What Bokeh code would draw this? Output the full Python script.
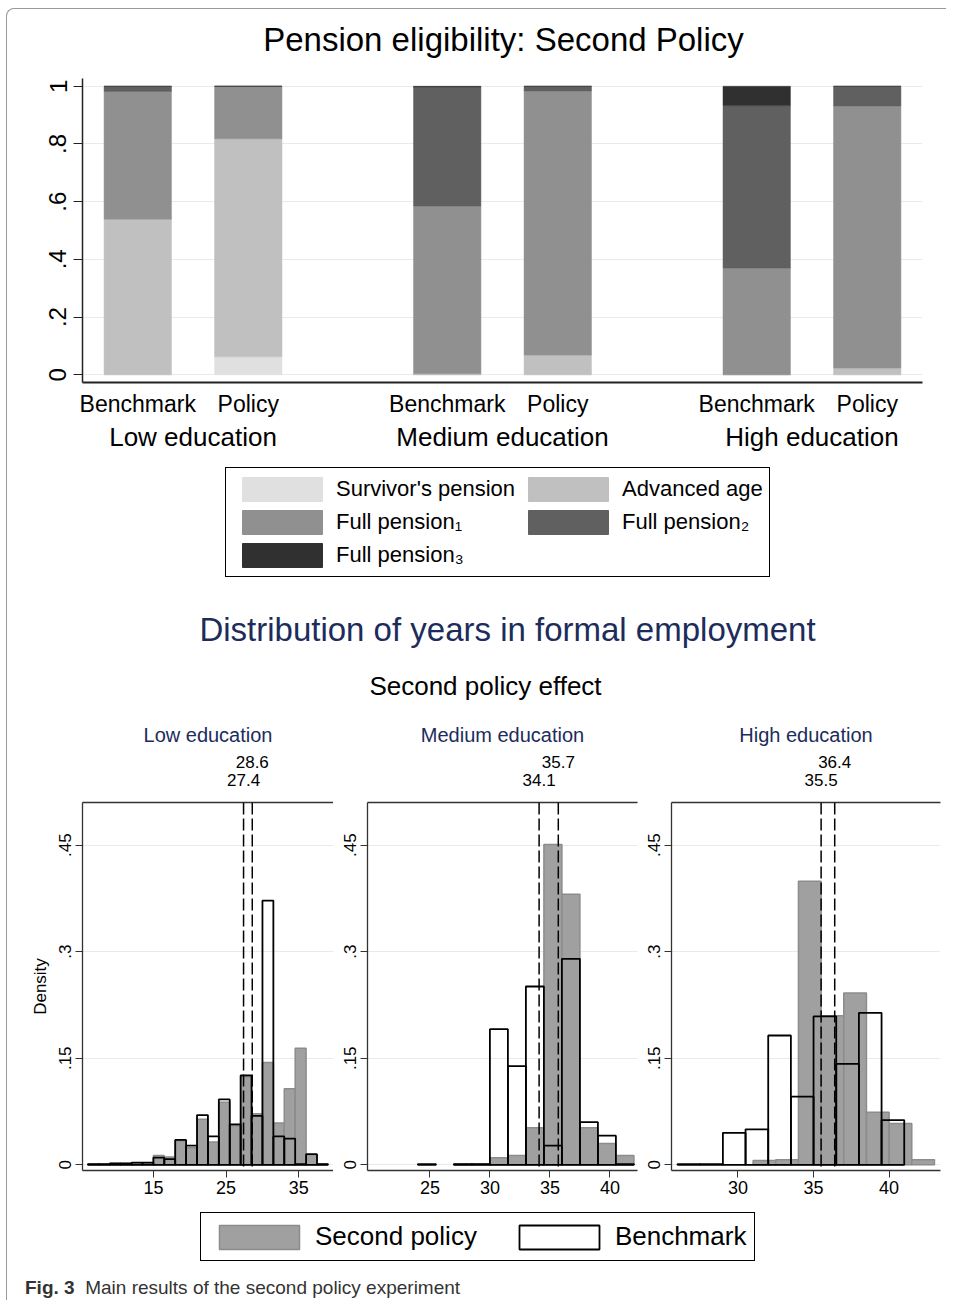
import math
from bokeh.plotting import figure
from bokeh.models import (ColumnDataSource, FactorRange, Range1d, LinearAxis, FixedTicker,
                          Span, Legend, LegendItem, Div)
from bokeh.layouts import column, row
from bokeh.embed import file_html
from bokeh.resources import INLINE

FONT = "Liberation Sans"
NAVY = "#1c2c5b"
NaN = float("nan")

# ---------------- Top chart: pension eligibility ----------------
EDU_GROUPS = ["Low education", "Medium education", "High education"]
SCENARIOS = ["Benchmark", "Policy"]
ELIG_LABELS = ["Survivor's pension", "Advanced age", "Full pension\u2081",
               "Full pension\u2082", "Full pension\u2083"]
ELIG_COLORS = ["#e0e0e0", "#c0c0c0", "#909090", "#606060", "#303030"]
# order: Low-Benchmark, Low-Policy, Medium-Benchmark, Medium-Policy, High-Benchmark, High-Policy
SURVIVOR = [0.000, 0.062, 0.000, 0.000, 0.000, 0.000]
ADVANCED = [0.539, 0.756, 0.003, 0.068, 0.000, 0.023]
FULL_1 = [0.443, 0.182, 0.582, 0.916, 0.370, 0.909]
FULL_2 = [0.018, 0.000, 0.412, 0.016, 0.563, 0.068]
FULL_3 = [0.000, 0.000, 0.003, 0.000, 0.067, 0.000]
TOP_YTICKS = [0, 0.2, 0.4, 0.6, 0.8, 1]
TOP_YLABELS = ["0", ".2", ".4", ".6", ".8", "1"]

# ---------------- Histograms: years in formal employment ----------------
BIN_WIDTH = 1.5
LOW_LEFT = [6.0, 7.5, 9.0, 10.5, 12.0, 13.5, 15.0, 16.5, 18.0, 19.5, 21.0,
            22.5, 24.0, 25.5, 27.0, 28.5, 30.0, 31.5, 33.0, 34.5, 36.0, 37.5]
LOW_BENCH = [0.001, 0.001, 0.002, 0.002, 0.003, 0.003, 0.010, 0.008, 0.035, 0.027, 0.070,
             0.040, 0.092, 0.057, 0.126, 0.069, 0.372, 0.040, 0.037, 0.001, 0.015, 0.001]
LOW_POLICY = [0.001, 0.001, 0.002, 0.002, 0.003, 0.003, 0.013, 0.011, 0.034, 0.024, 0.064,
              0.032, 0.088, 0.055, 0.124, 0.072, 0.144, 0.059, 0.107, 0.164, 0.014, 0.001]
LOW_MEDIANS = [27.4, 28.6]

MED_LEFT = [24.0, 25.5, 27.0, 28.5, 30.0, 31.5, 33.0, 34.5, 36.0, 37.5, 39.0, 40.5]
MED_BENCH = [0.001, NaN, 0.001, 0.001, 0.191, 0.139, 0.251, 0.027, 0.290, 0.060, 0.041, 0.001]
MED_POLICY = [NaN, NaN, 0.001, 0.001, 0.010, 0.013, 0.052, 0.451, 0.381, 0.052, 0.030, 0.013]
MED_MEDIANS = [34.1, 35.7]

HIGH_POL_LEFT = [31.0, 32.5, 34.0, 35.5, 37.0, 38.5, 40.0, 41.5]
HIGH_POLICY = [0.006, 0.007, 0.399, 0.210, 0.242, 0.074, 0.058, 0.007]
HIGH_BEN_LEFT = [26.0, 27.5, 29.0, 30.5, 32.0, 33.5, 35.0, 36.5, 38.0, 39.5]
HIGH_BENCH = [0.001, 0.001, 0.045, 0.050, 0.182, 0.096, 0.209, 0.142, 0.214, 0.063]
HIGH_MEDIANS = [35.5, 36.4]

HIST_YTICKS = [0, 0.15, 0.3, 0.45]
HIST_YLABELS = ["0", ".15", ".3", ".45"]
SERIES_LABELS = ["Second policy", "Benchmark"]

POL_FILL = "#a0a0a0"
POL_LINE = "#8c8c8c"

# ================= Title of top chart =================
title_div = Div(width=939, height=60, margin=(0, 0, 0, 0), text=(
    "<div style=\"position:relative;width:939px;height:60px;font-family:'Liberation Sans',sans-serif;\">"
    "<div style=\"position:absolute;left:27px;width:939px;top:12px;text-align:center;"
    "font-size:33px;line-height:38px;color:black;white-space:nowrap;\">Pension eligibility: Second Policy</div>"
    "</div>"))

# ================= Top figure =================
factors = [(g, s) for g in EDU_GROUPS for s in SCENARIOS]
src = ColumnDataSource(dict(x=factors, survivor=SURVIVOR, advanced=ADVANCED,
                            full1=FULL_1, full2=FULL_2, full3=FULL_3))
stack_cols = ["survivor", "advanced", "full1", "full2", "full3"]

top = figure(x_range=FactorRange(*factors, group_padding=0.8, range_padding=0.0),
             y_range=Range1d(-0.027, 1.027),
             frame_width=840, frame_height=304,
             min_border_left=75, min_border_right=24, min_border_top=9, min_border_bottom=80,
             output_backend="svg", toolbar_location=None)
rs = top.vbar_stack(stack_cols, x="x", width=0.61, fill_color=ELIG_COLORS,
                    line_color=ELIG_COLORS, line_width=0.5, source=src)
top.outline_line_color = None
top.xgrid.visible = False
top.ygrid.ticker = FixedTicker(ticks=TOP_YTICKS)
top.ygrid.grid_line_color = "#e3ecee"
top.ygrid.grid_line_width = 1.2

ya = top.yaxis[0]
ya.ticker = FixedTicker(ticks=TOP_YTICKS)
ya.major_label_overrides = {t: l for t, l in zip(TOP_YTICKS, TOP_YLABELS)}
ya.major_label_orientation = "vertical"
ya.major_label_text_font = FONT
ya.major_label_text_font_size = "24px"
ya.major_label_text_color = "black"
ya.major_label_standoff = 7
ya.major_tick_out = 9
ya.major_tick_in = 0
ya.minor_tick_out = 0
ya.minor_tick_in = 0
ya.axis_line_color = "#222222"
ya.axis_line_width = 1.5
ya.major_tick_line_color = "#222222"

xa = top.xaxis[0]
xa.major_label_text_font = FONT
xa.major_label_text_font_size = "23px"
xa.major_label_text_color = "black"
xa.major_label_standoff = 2
xa.group_text_font = FONT
xa.group_text_font_size = "26px"
xa.group_text_font_style = "normal"
xa.group_text_color = "black"
xa.separator_line_color = None
xa.major_tick_line_color = None
xa.axis_line_color = "#222222"
xa.axis_line_width = 2

# legend for the top chart, in its own strip (swatch renderers carry no drawable point)
top_leg_fig = figure(x_range=Range1d(0, 1), y_range=Range1d(0, 1), width=939, height=133,
                     min_border_left=0, min_border_right=0, min_border_top=0, min_border_bottom=0,
                     x_axis_location=None, y_axis_location=None,
                     output_backend="svg", toolbar_location=None)
top_leg_fig.outline_line_color = None
top_leg_fig.grid.visible = False
swatches = [top_leg_fig.vbar(x=[NaN], top=[NaN], width=1, fill_color=c, line_color=c)
            for c in ELIG_COLORS]
top_legend = Legend(items=[LegendItem(label=l, renderers=[r]) for l, r in zip(ELIG_LABELS, swatches)],
                    orientation="horizontal", ncols=2, location=(143, 18),
                    label_text_font=FONT, label_text_font_size="22px", label_text_color="black",
                    glyph_width=100, glyph_height=30, label_standoff=4, label_height=24,
                    spacing=3, padding=6, margin=0,
                    border_line_color="black", border_line_width=1.2, border_line_alpha=1.0,
                    background_fill_color="white")
top_leg_fig.add_layout(top_legend, "center")

# ================= Header =================
header = Div(width=939, height=115, margin=(0, 0, 0, 0), text=(
    "<div style=\"position:relative;width:939px;height:115px;font-family:'Liberation Sans',sans-serif;\">"
    "<div style=\"position:absolute;left:31px;width:939px;top:17px;text-align:center;"
    "font-size:33px;line-height:36px;color:%s;white-space:nowrap;\">Distribution of years in formal employment</div>"
    "<div style=\"position:absolute;left:9px;width:939px;top:76px;text-align:center;"
    "font-size:26px;line-height:30px;color:black;white-space:nowrap;\">Second policy effect</div>"
    "</div>") % NAVY)


# ================= Histograms =================
def make_hist(title, pol_left, pol_dens, ben_left, ben_dens, medians, xr, xticks,
              frame_w, mb_left, mb_right, ylabel=None):
    p = figure(x_range=Range1d(*xr), y_range=Range1d(-0.008, 0.51),
               frame_width=frame_w, frame_height=368,
               min_border_left=mb_left, min_border_right=mb_right,
               min_border_top=92, min_border_bottom=35,
               output_backend="svg", toolbar_location=None, title=title)
    p.outline_line_color = None
    p.xgrid.visible = False
    p.ygrid.ticker = FixedTicker(ticks=HIST_YTICKS)
    p.ygrid.grid_line_color = "#e3ecee"

    pol = ColumnDataSource(dict(left=pol_left, right=[l + BIN_WIDTH for l in pol_left], top=pol_dens))
    ben = ColumnDataSource(dict(left=ben_left, right=[l + BIN_WIDTH for l in ben_left], top=ben_dens))
    p.quad(left="left", right="right", top="top", bottom=0, source=pol,
           fill_color=POL_FILL, line_color=POL_LINE, line_width=1.5)
    p.quad(left="left", right="right", top="top", bottom=0, source=ben,
           fill_color=None, line_color="black", line_width=1.8)
    for m in medians:
        p.add_layout(Span(location=m, dimension="height", line_color="black",
                          line_dash="12 4", line_width=1.5))

    p.title.align = "center"
    p.title.text_font = FONT
    p.title.text_font_size = "20px"
    p.title.text_font_style = "normal"
    p.title.text_color = NAVY
    p.title.standoff = 13

    y = p.yaxis[0]
    y.ticker = FixedTicker(ticks=HIST_YTICKS)
    y.major_label_overrides = {t: l for t, l in zip(HIST_YTICKS, HIST_YLABELS)}
    y.major_label_orientation = "vertical"
    y.major_label_text_font = FONT
    y.major_label_text_font_size = "17px"
    y.major_label_text_color = "black"
    y.major_label_standoff = 4
    y.major_tick_out = 7
    y.major_tick_in = 0
    y.minor_tick_out = 0
    y.minor_tick_in = 0
    y.axis_line_color = "#333333"
    y.axis_line_width = 1.3
    y.major_tick_line_color = "#333333"
    if ylabel:
        y.axis_label = ylabel
        y.axis_label_text_font = FONT
        y.axis_label_text_font_size = "17px"
        y.axis_label_text_font_style = "normal"
        y.axis_label_text_color = "black"
        y.axis_label_standoff = 7

    x = p.xaxis[0]
    x.ticker = FixedTicker(ticks=xticks)
    x.major_label_text_font = FONT
    x.major_label_text_font_size = "18px"
    x.major_label_text_color = "black"
    x.major_label_standoff = 3
    x.major_tick_out = 7
    x.major_tick_in = 0
    x.minor_tick_out = 0
    x.minor_tick_in = 0
    x.axis_line_color = "#333333"
    x.axis_line_width = 1.3
    x.major_tick_line_color = "#333333"

    lo, hi = sorted(medians)
    ax_a = LinearAxis(ticker=FixedTicker(ticks=[lo]), major_label_overrides={lo: str(lo)},
                      major_tick_out=0, major_tick_in=0, minor_tick_out=0, minor_tick_in=0,
                      major_label_standoff=17, axis_line_color="#333333", axis_line_width=1.3,
                      major_label_text_font=FONT, major_label_text_font_size="17px",
                      major_label_text_color="black")
    p.add_layout(ax_a, "above")
    ax_b = LinearAxis(ticker=FixedTicker(ticks=[hi]), major_label_overrides={hi: str(hi)},
                      major_tick_out=0, major_tick_in=0, minor_tick_out=0, minor_tick_in=0,
                      major_label_standoff=3, axis_line_color=None,
                      major_label_text_font=FONT, major_label_text_font_size="17px",
                      major_label_text_color="black")
    p.add_layout(ax_b, "above")
    return p


low_fig = make_hist("Low education", LOW_LEFT, LOW_POLICY, LOW_LEFT, LOW_BENCH, LOW_MEDIANS,
                    (5.25, 39.77), [15, 25, 35], 251, 75, 0, ylabel="Density")
med_fig = make_hist("Medium education", MED_LEFT, MED_POLICY, MED_LEFT, MED_BENCH, MED_MEDIANS,
                    (19.8, 42.3), [25, 30, 35, 40], 270, 34, 3)
high_fig = make_hist("High education", HIGH_POL_LEFT, HIGH_POLICY, HIGH_BEN_LEFT, HIGH_BENCH,
                     HIGH_MEDIANS, (25.6, 43.4), [30, 35, 40], 269, 31, 6)

# ================= Bottom legend =================
leg_fig = figure(x_range=Range1d(0, 1), y_range=Range1d(0, 1), width=939, height=63,
                 min_border_left=0, min_border_right=0, min_border_top=0, min_border_bottom=0,
                 x_axis_location=None, y_axis_location=None,
                 output_backend="svg", toolbar_location=None)
leg_fig.outline_line_color = None
leg_fig.grid.visible = False
r_pol = leg_fig.quad(left=[NaN], right=[NaN], top=[NaN], bottom=[NaN], fill_color=POL_FILL,
                     line_color=POL_LINE, line_width=1.5)
r_ben = leg_fig.quad(left=[NaN], right=[NaN], top=[NaN], bottom=[NaN], fill_color="white",
                     line_color="black", line_width=1.8)
bottom_legend = Legend(items=[LegendItem(label=SERIES_LABELS[0], renderers=[r_pol]),
                              LegendItem(label=SERIES_LABELS[1], renderers=[r_ben])],
                       orientation="horizontal", location=(118, 7),
                       label_text_font=FONT, label_text_font_size="26px", label_text_color="black",
                       glyph_width=100, glyph_height=30, label_standoff=6, label_height=26,
                       spacing=32, padding=8, margin=0,
                       border_line_color="black", border_line_width=1.2, border_line_alpha=1.0,
                       background_fill_color="white")
leg_fig.add_layout(bottom_legend, "center")

caption = Div(width=939, height=32, margin=(0, 0, 0, 0), text=(
    "<div style=\"font-family:'Liberation Sans',sans-serif;font-size:19px;color:#333;"
    "padding-left:18px;padding-top:6px;white-space:nowrap;\"><b>Fig. 3</b>&nbsp; Main results of the second policy experiment</div>"))

layout = column(title_div, top, top_leg_fig, header, row(low_fig, med_fig, high_fig, spacing=0),
                leg_fig, caption,
                spacing=0, margin=(8, 0, 0, 6),
                styles={"border-left": "1px solid #999999", "border-top": "1px solid #999999",
                        "border-top-left-radius": "8px"})

open("out.html", "w").write(file_html(layout, INLINE, title="Pension eligibility"))
